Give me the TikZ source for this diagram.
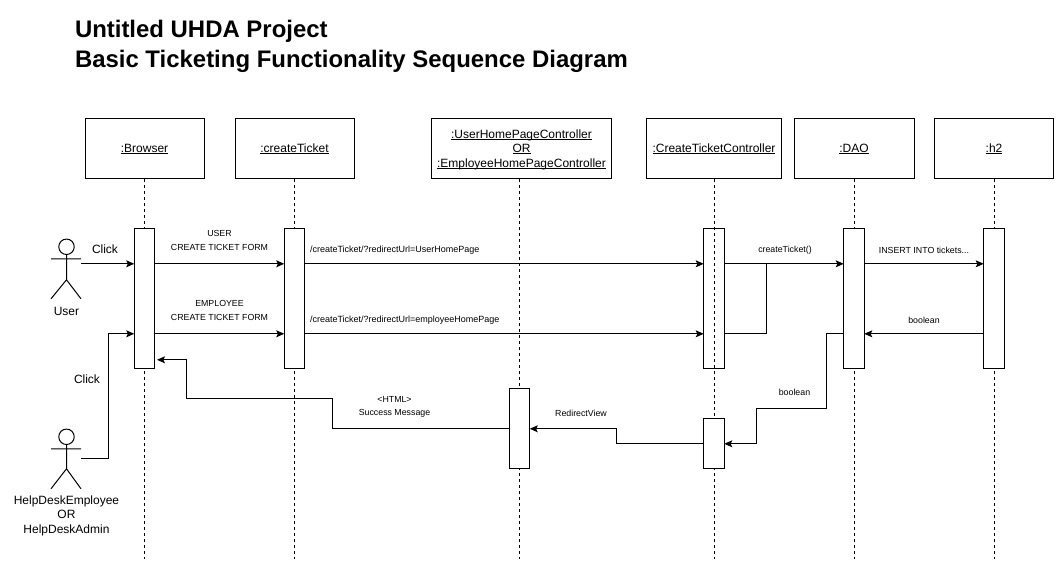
\documentclass[tikz,border=0pt]{standalone}
\usepackage{fontspec}
\setmainfont{Liberation Sans}
\usetikzlibrary{arrows.meta}
\newcommand{\ulx}[1]{\setbox0\hbox{#1}\rlap{\rule[-0.85pt]{\wd0}{0.6pt}}\box0\relax}
\newcommand{\headtxt}[1]{\raisebox{-3pt}[0pt][0pt]{\begin{tabular}[c]{@{}c@{}}#1\end{tabular}}}
\tikzset{
  px/.style={x=0.75pt,y=-0.75pt},
  every node/.style={outer sep=0pt,inner sep=0pt},
  head/.style={draw=black,line width=0.75pt,fill=white,minimum height=45pt,font=\fontsize{9pt}{10.9pt}\selectfont},
  act/.style={draw=black,line width=0.75pt,fill=white,minimum width=15.4pt},
  acthollow/.style={draw=black,line width=0.75pt,minimum width=15.4pt},
  lifeline/.style={draw=black,line width=0.75pt,dash pattern=on 2.25pt off 2.25pt},
  msg/.style={draw=black,line width=0.75pt,-{Stealth[length=6pt,width=5.2pt,inset=1.2pt]}},
  plain/.style={draw=black,line width=0.75pt},
  big/.style={font=\fontsize{9pt}{10.9pt}\selectfont,align=center},
  small/.style={font=\fontsize{6.6pt}{10.3pt}\selectfont,align=center},
  url/.style={font=\fontsize{6.75pt}{10.3pt}\selectfont,anchor=west},
  titletext/.style={font=\bfseries\fontsize{17.95pt}{22.5pt}\selectfont,align=left,anchor=west},
  actorpart/.style={draw=black,line width=0.75pt}
}
\begin{document}
\begin{tikzpicture}[px]
\useasboundingbox (0,-0.8) rectangle (1061,565.2);
\fill[white] (0,-0.8) rectangle (1061,565.2);
\node[titletext] (title) at (75,46) {Untitled UHDA Project\\Basic Ticketing Functionality Sequence Diagram};

% heads
\node[head,minimum width=89.25pt] (hB) at (144.5,148) {\headtxt{\ulx{:Browser}}};
\node[head,minimum width=89.25pt] (hC) at (294.5,148) {\headtxt{\ulx{:createTicket}}};
\node[head,minimum width=135pt] (hU) at (521.5,148) {\headtxt{\ulx{:UserHomePageController}\\\ulx{OR}\\\ulx{:EmployeeHomePageController}}};
\node[head,minimum width=101.25pt] (hT) at (714,148) {\headtxt{\ulx{:CreateTicketController}}};
\node[head,minimum width=90pt] (hD) at (854,148) {\headtxt{\ulx{:DAO}}};
\node[head,minimum width=89.25pt] (hH) at (994,148) {\headtxt{\ulx{:h2}}};

% lifeline ends
\coordinate (eB) at (144.5,558);
\coordinate (eC) at (294.5,558);
\coordinate (eU) at (519.5,558);
\coordinate (eT) at (714,558);
\coordinate (eD) at (854,558);
\coordinate (eH) at (994,558);
\coordinate (sU) at (519.5,178);
\draw[lifeline] (hB.south) -- (eB);
\draw[lifeline] (hC.south) -- (eC);
\draw[lifeline] (sU) -- (eU);
\draw[lifeline] (hT.south) -- (eT);
\draw[lifeline] (hD.south) -- (eD);
\draw[lifeline] (hH.south) -- (eH);

% activations
\node[act,minimum height=105pt] (aB) at (144.5,298) {};
\node[act,minimum height=105pt] (aC) at (294.5,298) {};
\node[acthollow,minimum height=105pt] (aT) at (714,298) {};
\node[act,minimum height=105pt] (aD) at (854,298) {};
\node[act,minimum height=105pt] (aH) at (994,298) {};
\node[act,minimum height=37.5pt] (aT2) at (714,443) {};
\node[act,minimum height=60pt] (aU) at (519.5,428) {};

% level helpers
\coordinate (y1) at (0,263);
\coordinate (y2) at (0,333);
\coordinate (y3) at (0,443);
\coordinate (y4) at (0,428);

% actors
\node[draw=black,line width=0.75pt,circle,minimum size=11.6pt,fill=white] (headA) at (66.5,246) {};
\coordinate (armLA) at (51,258); \coordinate (armRA) at (81,258);
\coordinate (hipA) at (66.5,279); \coordinate (legLA) at (51,298); \coordinate (legRA) at (81,298);
\draw[actorpart] (headA.south) -- (hipA) (armLA) -- (armRA) (legLA) -- (hipA) -- (legRA);
\node[draw=black,line width=0.75pt,circle,minimum size=11.6pt,fill=white] (headE) at (66.5,436) {};
\coordinate (armLE) at (51,448); \coordinate (armRE) at (81,448);
\coordinate (hipE) at (66.5,468); \coordinate (legLE) at (51,488); \coordinate (legRE) at (81,488);
\draw[actorpart] (headE.south) -- (hipE) (armLE) -- (armRE) (legLE) -- (hipE) -- (legRE);
\node[big] (lUser) at (66.5,310.5) {User};
\node[big] (lEmp) at (66.5,515) {HelpDeskEmployee\\OR\\HelpDeskAdmin};

% connectors
\coordinate (fromUser) at (81,263);
\coordinate (fromEmp) at (81,458);
\coordinate (bendEmp) at (108,458);
\draw[msg] (fromUser) -- (aB.west |- y1);
\draw[msg] (fromEmp) -- (bendEmp) |- (aB.west |- y2);
\draw[msg] (aB.east |- y1) -- (aC.west |- y1);
\draw[msg] (aB.east |- y2) -- (aC.west |- y2);
\draw[msg] (aC.east |- y1) -- (aT.west |- y1);
\draw[msg] (aC.east |- y2) -- (aT.west |- y2);
\draw[msg] (aT.east |- y1) -- (aD.west |- y1);
\coordinate (join) at (766,263);
\draw[plain] (aT.east |- y2) -| (join);
\draw[msg] (aD.east |- y1) -- (aH.west |- y1);
\draw[msg] (aH.west |- y2) -- (aD.east |- y2);
\coordinate (b1) at (826,408);
\coordinate (b2) at (756,408);
\draw[msg] (aD.west |- y2) -| (b1) -- (b2) |- (aT2.east |- y3);
\coordinate (r1) at (616,443);
\coordinate (r2) at (616,428);
\draw[msg] (aT2.west |- y3) -- (r1) -- (r2) -- (aU.east |- y4);
\coordinate (s1) at (332,428);
\coordinate (s2) at (332,398);
\coordinate (s3) at (186,398);
\coordinate (s4) at (186,359);
\coordinate (s5) at (157,359);
\draw[msg] (aU.west |- y4) -- (s1) -- (s2) -- (s3) -- (s4) -- (s5);

% labels
\node[big] (lc1) at (105,248) {Click};
\node[big] (lc2) at (87,378) {Click};
\node[small] (l1) at (219.5,239.5) {USER\\CREATE TICKET FORM};
\node[small] (l2) at (219.5,309.5) {EMPLOYEE\\CREATE TICKET FORM};
\node[url] (l3) at (310,249.5) {/createTicket/?redirectUrl=UserHomePage};
\node[url] (l4) at (310,319.5) {/createTicket/?redirectUrl=employeeHomePage};
\node[small] (l5) at (785,249.5) {createTicket()};
\node[small] (l6) at (924,249.5) {INSERT INTO tickets...};
\node[small] (l7) at (924,319.5) {boolean};
\node[small] (l8) at (794.5,392) {boolean};
\node[small] (l9) at (581,412.5) {RedirectView};
\node[small] (l10) at (394.5,406) {<HTML>\\Success Message};
\end{tikzpicture}
\end{document}
